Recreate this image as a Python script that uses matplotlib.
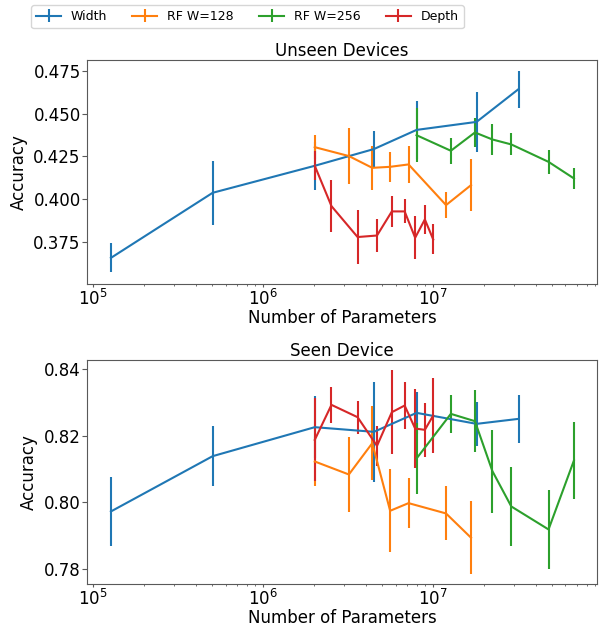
import matplotlib
matplotlib.use("Agg")
import matplotlib.pyplot as plt

# parameter counts
width_params = [1.27e5, 5.04e5, 2.01e6, 4.48e6, 7.98e6, 1.80e7, 3.18e7]
rf128_params = [2.01e6, 3.19e6, 4.38e6, 5.58e6, 7.16e6, 1.19e7, 1.67e7]
rf256_params = [7.98e6, 1.27e7, 1.76e7, 2.23e7, 2.88e7, 4.77e7, 6.73e7]
depth_params = [2.01e6, 2.52e6, 3.59e6, 4.67e6, 5.71e6, 6.79e6, 7.83e6, 8.93e6, 1.0e7]

# unseen devices
unseen_width = [0.3656, 0.4037, 0.4195, 0.4293, 0.4405, 0.4452, 0.4644]
unseen_width_err = [0.0085, 0.0187, 0.0140, 0.0106, 0.0170, 0.0174, 0.0108]
unseen_rf128 = [0.4304, 0.4252, 0.4183, 0.4189, 0.4203, 0.3965, 0.4082]
unseen_rf128_err = [0.0070, 0.0164, 0.0130, 0.0088, 0.0108, 0.0076, 0.0152]
unseen_rf256 = [0.4374, 0.4283, 0.4390, 0.4349, 0.4320, 0.4218, 0.4121]
unseen_rf256_err = [0.0158, 0.0076, 0.0085, 0.0090, 0.0064, 0.0072, 0.0061]
unseen_depth = [0.4195, 0.3959, 0.3778, 0.3787, 0.3928, 0.3928, 0.3774, 0.3881, 0.3764]
unseen_depth_err = [0.0085, 0.0150, 0.0158, 0.0095, 0.0092, 0.0070, 0.0125, 0.0086, 0.0088]

# seen device
seen_width = [0.7973, 0.8139, 0.8226, 0.8212, 0.8269, 0.8236, 0.8251]
seen_width_err = [0.0104, 0.0090, 0.0093, 0.0151, 0.0064, 0.0065, 0.0073]
seen_rf128 = [0.8123, 0.8084, 0.8178, 0.7975, 0.7998, 0.7967, 0.7894]
seen_rf128_err = [0.0075, 0.0112, 0.0112, 0.0125, 0.0075, 0.0081, 0.0110]
seen_rf256 = [0.8132, 0.8266, 0.8244, 0.8094, 0.7988, 0.7919, 0.8126]
seen_rf256_err = [0.0108, 0.0057, 0.0093, 0.0125, 0.0119, 0.0119, 0.0116]
seen_depth = [0.8188, 0.8293, 0.8256, 0.8170, 0.8271, 0.8291, 0.8222, 0.8218, 0.8261]
seen_depth_err = [0.0125, 0.0053, 0.0050, 0.0061, 0.0126, 0.0070, 0.0118, 0.0081, 0.0114]

plt.rcParams["font.size"] = 12
plt.rcParams["axes.edgecolor"] = "0.35"
plt.rcParams["xtick.color"] = "0.35"
plt.rcParams["ytick.color"] = "0.35"
plt.rcParams["xtick.labelcolor"] = "black"
plt.rcParams["ytick.labelcolor"] = "black"
plt.rcParams["xtick.major.size"] = 2.5
plt.rcParams["xtick.minor.size"] = 1.5
plt.rcParams["xtick.major.pad"] = 1.0
plt.rcParams["ytick.major.size"] = 3.5
plt.rcParams["ytick.major.pad"] = 1.0

fig = plt.figure(figsize=(6.02, 6.27), dpi=100)
ax1 = fig.add_axes([0.1445, 0.547, 0.847, 0.357])
ax2 = fig.add_axes([0.1445, 0.069, 0.847, 0.357])

panels = [
    (ax1, "Unseen Devices",
     [(unseen_width, unseen_width_err), (unseen_rf128, unseen_rf128_err),
      (unseen_rf256, unseen_rf256_err), (unseen_depth, unseen_depth_err)]),
    (ax2, "Seen Device",
     [(seen_width, seen_width_err), (seen_rf128, seen_rf128_err),
      (seen_rf256, seen_rf256_err), (seen_depth, seen_depth_err)]),
]
xs = [width_params, rf128_params, rf256_params, depth_params]
labels = ["Width", "RF W=128", "RF W=256", "Depth"]
colors = ["tab:blue", "tab:orange", "tab:green", "tab:red"]

for ax, title, series in panels:
    for x, (y, e), lab, c in zip(xs, series, labels, colors):
        ax.errorbar(x, y, yerr=e, color=c, label=lab, lw=1.5, elinewidth=1.5)
    ax.set_xscale("log")
    ax.set_xlim(10 ** 4.963, 10 ** 7.963)
    ax.set_title(title, fontsize=12, pad=3)
    ax.set_xlabel("Number of Parameters", labelpad=0)
    ax.set_ylabel("Accuracy")

ax1.set_ylim(0.3503, 0.4813)
ax1.set_yticks([0.375, 0.400, 0.425, 0.450, 0.475])
ax2.set_ylim(0.7756, 0.8428)
ax2.set_yticks([0.78, 0.80, 0.82, 0.84])

handles, labs = ax1.get_legend_handles_labels()
fig.legend(handles, labs, loc="upper left", ncol=4, fontsize=9,
           bbox_to_anchor=(31 / 602, 1 - 5 / 627), borderaxespad=0)

fig.savefig("out.png", dpi=100)
